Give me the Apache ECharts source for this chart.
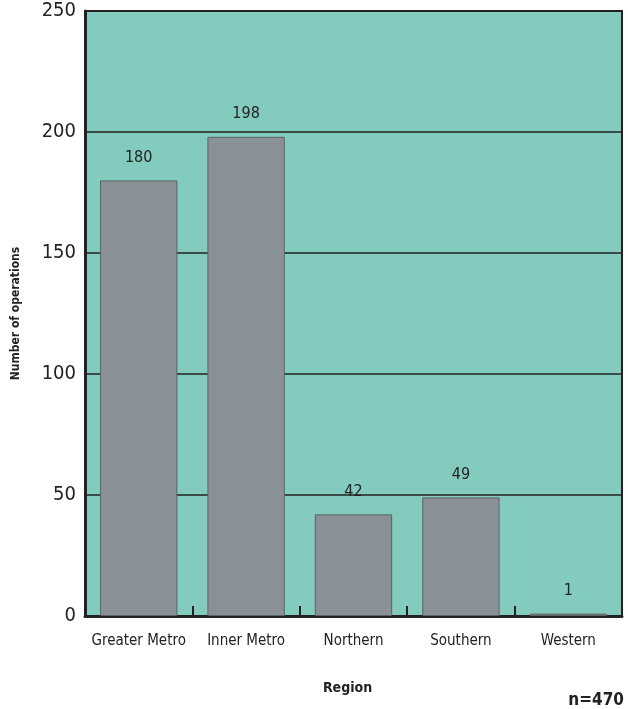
<!DOCTYPE html>
<html>
<head>
<meta charset="utf-8">
<script src="https://cdn.jsdelivr.net/npm/echarts@6/dist/echarts.min.js"></script>
<style>
html,body{margin:0;padding:0;background:#fff;}
#c{width:628px;height:709px;}
</style>
</head>
<body>
<div id="c"></div>
<script>
const categories = ['Greater Metro', 'Inner Metro', 'Northern', 'Southern', 'Western'];
const operations = [180, 198, 42, 49, 1];
const yTicks = [0, 50, 100, 150, 200, 250];
const nLabel = 'n=470';

const FONT = '"DejaVu Sans Condensed", "Liberation Sans", sans-serif';
const chart = echarts.init(document.getElementById('c'), null, {renderer: 'canvas'});
chart.setOption({
  animation: false,
  backgroundColor: '#ffffff',
  grid: {
    left: 85, right: 6, top: 11, bottom: 93,
    containLabel: false, outerBoundsMode: 'none',
    show: true, backgroundColor: '#83cbbe', borderColor: '#222222', borderWidth: 2
  },
  xAxis: {
    type: 'category',
    data: categories,
    name: 'Region',
    nameLocation: 'middle',
    nameGap: 65,
    nameTextStyle: {fontFamily: FONT, fontWeight: 'bold', fontSize: 14, color: '#222', padding: [0, 12, 0, 0]},
    axisLine: {show: true, lineStyle: {color: '#222', width: 3}},
    axisTick: {show: true, inside: true, length: 10, lineStyle: {color: '#222', width: 2}},
    axisLabel: {fontFamily: FONT, fontSize: 15, color: '#222', margin: 18, interval: 0}
  },
  yAxis: {
    type: 'value',
    min: yTicks[0], max: yTicks[yTicks.length - 1], interval: 50,
    name: 'Number of operations',
    nameLocation: 'middle',
    nameGap: 63,
    nameTextStyle: {fontFamily: FONT, fontWeight: 'bold', fontSize: 12, color: '#222'},
    axisLine: {show: true, lineStyle: {color: '#222', width: 3}},
    axisTick: {show: false},
    axisLabel: {fontFamily: FONT, fontSize: 20, color: '#222', margin: 9},
    splitLine: {show: true, lineStyle: {color: '#222', width: 1.5}}
  },
  series: [{
    type: 'bar',
    data: operations,
    barWidth: '72%',
    itemStyle: {color: '#8a9196', borderColor: '#5c6165', borderWidth: 1},
    label: {show: true, position: 'top', distance: 15, fontFamily: FONT, fontSize: 16, color: '#222'}
  }],
  graphic: [{
    type: 'text', right: 4, top: 692,
    style: {text: nLabel, fontFamily: FONT, fontWeight: 'bold', fontSize: 17, fill: '#222'}
  }]
});
</script>
</body>
</html>
